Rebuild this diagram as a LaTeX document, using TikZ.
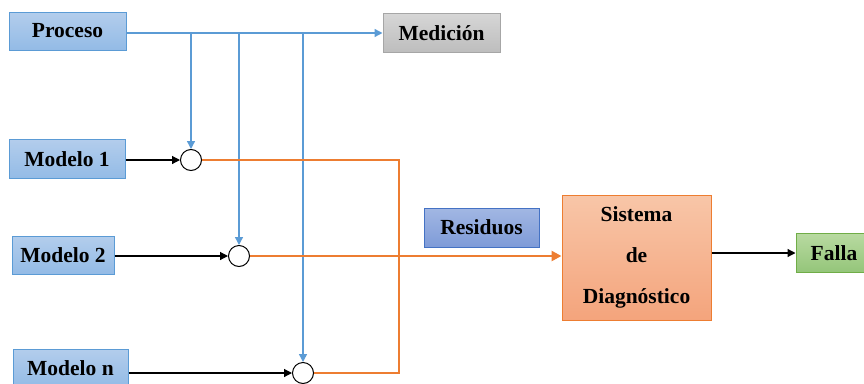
\documentclass[tikz,border=0pt]{standalone}
\usepackage{fontspec}
\setmainfont{Liberation Serif}
\usetikzlibrary{arrows.meta}
\definecolor{blueline}{HTML}{5B9BD5}
\definecolor{orangeline}{HTML}{ED7D31}
\definecolor{bluetop}{HTML}{B3CDEC}
\definecolor{bluebot}{HTML}{93BBE6}
\definecolor{graytop}{HTML}{D6D6D6}
\definecolor{graybot}{HTML}{BDBDBD}
\definecolor{restop}{HTML}{A2B7E3}
\definecolor{resbot}{HTML}{7E9BD8}
\definecolor{resedge}{HTML}{4472C4}
\definecolor{sistop}{HTML}{F8C6A8}
\definecolor{sisbot}{HTML}{F4A47C}
\definecolor{faltop}{HTML}{B8DAA0}
\definecolor{falbot}{HTML}{94C57A}
\definecolor{faledge}{HTML}{70AD47}
\tikzset{
  box/.style={draw, line width=1pt, inner sep=0pt, font=\fontsize{21.5}{26}\selectfont\bfseries},
  bluebox/.style={box, draw=blueline, top color=bluetop, bottom color=bluebot},
  graybox/.style={box, draw=black!35, top color=graytop, bottom color=graybot},
  resbox/.style={box, draw=resedge, top color=restop, bottom color=resbot},
  sisbox/.style={box, draw=orangeline, top color=sistop, bottom color=sisbot},
  falbox/.style={box, draw=faledge, top color=faltop, bottom color=falbot},
  sumcirc/.style={circle, draw=black, line width=1pt, fill=white, minimum size=21pt, inner sep=0pt},
  feed/.style={draw=blueline, line width=1.4pt, -{Triangle[length=8pt,width=8pt]}},
  modarrow/.style={draw=black, line width=1.2pt, -{Triangle[length=8pt,width=8pt]}},
  resline/.style={draw=orangeline, line width=2.6pt},
}
\begin{document}
\begin{tikzpicture}[x=1pt, y=-1pt]
\useasboundingbox (0,0) rectangle (864,383);

% blocks
\node[bluebox, minimum width=117pt, minimum height=38pt] (proc) at (67.5,31) {Proceso};
\node[graybox, minimum width=117pt, minimum height=39pt] (med) at (441.5,33) {Medición};
\node[bluebox, minimum width=116pt, minimum height=39pt] (m1) at (67,159) {Modelo 1};
\node[bluebox, minimum width=102pt, minimum height=38pt] (m2) at (63,255) {Modelo 2};
\node[bluebox, minimum width=115pt, minimum height=38pt] (mn) at (70.5,368) {Modelo n};
\node[resbox, minimum width=115pt, minimum height=39pt] (res) at (481.5,227.5) {Residuos};
\node[sisbox, minimum width=149pt, minimum height=125pt, align=center,
      font=\fontsize{21.5}{41}\selectfont\bfseries] (sis) at (636.5,257.5) {Sistema\\de\\Diagnóstico};
\node[falbox, minimum width=76pt, minimum height=39pt] (fal) at (834,253) {Falla};

% comparison points
\node[sumcirc] (c1) at (191,160) {};
\node[sumcirc] (c2) at (239,256) {};
\node[sumcirc] (cn) at (303,373) {};

% measured signal distribution
\path[feed] (proc.east |- 0,33) -- (med.west);
\path[feed] (c1 |- 0,33) -- (c1.north);
\path[feed] (c2 |- 0,33) -- (c2.north);
\path[feed] (cn |- 0,33) -- (cn.north);

% model outputs
\path[modarrow] (m1.east |- c1) -- (c1.west);
\path[modarrow] (m2.east |- c2) -- (c2.west);
\path[modarrow] (mn.east |- cn) -- (cn.west);

% residuals
\coordinate (rc) at (399,160);
\path[resline] (c1.east) -- (rc) |- (cn.east);
\path[resline, -{Triangle[length=10pt,width=10pt]}] (c2.east) -- (sis.west |- c2.east);

% diagnosis output
\path[modarrow] (sis.east |- fal.west) -- (fal.west);
\end{tikzpicture}
\end{document}
